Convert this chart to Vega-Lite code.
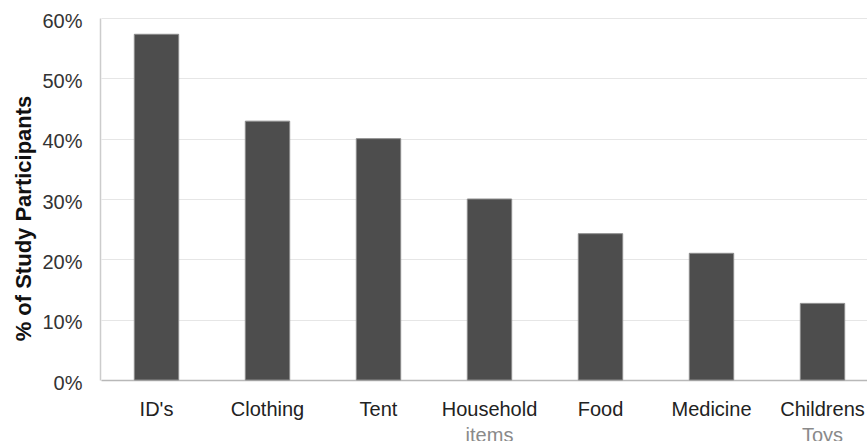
{
  "$schema": "https://vega.github.io/schema/vega-lite/v6.json",
  "autosize": {"type": "none"},
  "padding": {"left": 100, "top": 18, "right": 0, "bottom": 61},
  "width": 767,
  "height": 362,
  "background": "white",
  "config": {
    "view": {"stroke": null},
    "font": "Liberation Sans"
  },
  "data": {
    "values": [
      {"item": "ID's", "pct": 0.573},
      {"item": "Clothing", "pct": 0.429},
      {"item": "Tent", "pct": 0.400},
      {"item": "Household items", "pct": 0.300},
      {"item": "Food", "pct": 0.2425},
      {"item": "Medicine", "pct": 0.210},
      {"item": "Childrens Toys", "pct": 0.127}
    ]
  },
  "layer": [
    {
      "mark": {"type": "bar", "color": "#4d4d4d", "stroke": "#8c8c8c", "strokeWidth": 1},
      "encoding": {
        "x": {
          "field": "item", "type": "nominal", "sort": null,
          "scale": {"range": [1, 778], "paddingInner": 0.6, "paddingOuter": 0.3},
          "axis": {
            "orient": "bottom", "title": null, "labelAngle": 0, "ticks": false, "tickSize": 0,
            "labelPadding": 19, "labelFontSize": 20, "labelColor": "#222222",
            "labelExpr": "split(datum.label, ' ')[0]",
            "domainColor": "#b8b8b8", "domainWidth": 1.5, "grid": false
          }
        },
        "y": {
          "field": "pct", "type": "quantitative",
          "scale": {"domain": [0, 0.6], "nice": false},
          "axis": {
            "values": [0, 0.1, 0.2, 0.3, 0.4, 0.5, 0.6], "format": ".0%",
            "title": "% of Study Participants", "titleFontSize": 22, "titleFontWeight": "bold",
            "titleColor": "#111111", "titleAngle": 270, "titleAlign": "center",
            "titleBaseline": "alphabetic", "titleX": -70, "titleY": 200,
            "ticks": false, "tickSize": 0, "labelPadding": 18, "labelFontSize": 20,
            "labelColor": "#333333", "labelOffset": 3,
            "domainColor": "#cccccc", "domainWidth": 1.5,
            "grid": true, "gridColor": "#e6e6e6", "gridWidth": 1
          }
        }
      }
    },
    {
      "mark": {"type": "bar", "opacity": 0},
      "encoding": {
        "x": {
          "field": "item", "type": "nominal", "sort": null,
          "axis": {
            "orient": "bottom", "title": null, "labelAngle": 0, "ticks": false, "tickSize": 0,
            "labelPadding": 45, "labelFontSize": 20, "labelColor": "#8a8a8a",
            "labelExpr": "split(datum.label, ' ')[1] || ''",
            "domain": false, "grid": false
          }
        }
      }
    }
  ],
  "resolve": {"axis": {"x": "independent"}}
}
